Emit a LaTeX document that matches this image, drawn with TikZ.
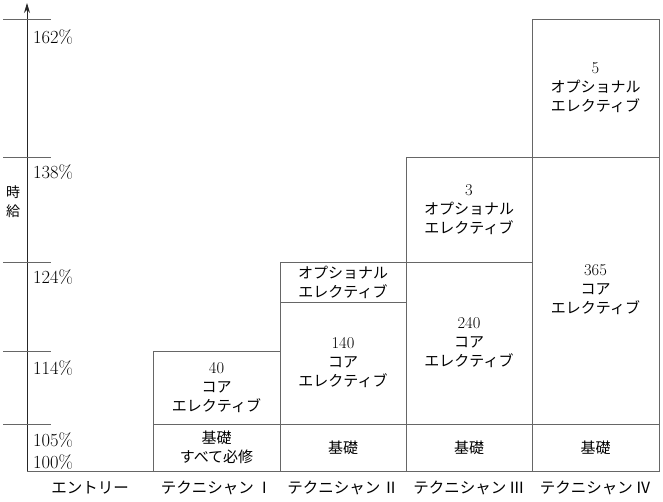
\documentclass[tikz,border=0pt]{standalone}
\usepackage{fontspec}
\newfontfamily\jp{Noto Sans CJK JP}
\usetikzlibrary{arrows.meta}
\tikzset{
  boxline/.style={draw=black!60, line width=0.9pt},
  ticklbl/.style={anchor=west, inner sep=0pt, font=\fontsize{18.5}{18.5}\selectfont},
  cell/.style={align=center, inner sep=0pt, font=\fontsize{16.5}{19}\selectfont},
  collbl/.style={inner sep=0pt, font=\jp\fontsize{15.5}{16}\selectfont},
}
\newcommand{\jt}[1]{{\jp\fontsize{15}{19}\selectfont #1}}
\begin{document}
\begin{tikzpicture}[x=1pt,y=-1pt]
\useasboundingbox (0,0) rectangle (663,501);
% axis
\coordinate (ax0) at (27,471);
\coordinate (ax1) at (27,3);
\draw[black!85, line width=0.9pt, -{Stealth[length=10pt,width=6pt]}] (ax0) -- (ax1);
% baseline
\coordinate (bl1) at (659,471);
\draw[boxline] (ax0) -- (bl1);
% ticks
\foreach \yy/\nm in {19/t162,157/t138,262/t124,351/t114,424/t105}{
  \coordinate (\nm a) at (3,\yy);
  \coordinate (\nm b) at (51,\yy);
  \draw[black!60, line width=0.9pt] (\nm a) -- (\nm b);
}
\node[ticklbl] (l162) at (33,37) {162\%};
\node[ticklbl] (l138) at (33,172) {138\%};
\node[ticklbl] (l124) at (33,277) {124\%};
\node[ticklbl] (l114) at (33,368) {114\%};
\node[ticklbl] (l105) at (33,440) {105\%};
\node[ticklbl] (l100) at (33,462) {100\%};
\node[align=center, inner sep=0pt, font=\jp\fontsize{14}{19}\selectfont] (wage) at (13,202) {時\\給};
% column I
\draw[boxline] (153,351) rectangle (280,424);
\draw[boxline] (153,424) rectangle (280,471);
\node[cell] (c1a) at (216.5,388) {40\\\jt{コア}\\\jt{エレクティブ}};
\node[cell] (c1b) at (216.5,447.5) {\jt{基礎}\\\jt{すべて必修}};
% column II
\draw[boxline] (280,262) rectangle (406,302);
\draw[boxline] (280,302) rectangle (406,424);
\draw[boxline] (280,424) rectangle (406,471);
\node[cell] (c2c) at (343,282) {\jt{オプショナル}\\\jt{エレクティブ}};
\node[cell] (c2a) at (343,363) {140\\\jt{コア}\\\jt{エレクティブ}};
\node[cell] (c2b) at (343,447.5) {\jt{基礎}};
% column III
\draw[boxline] (406,157) rectangle (532,262);
\draw[boxline] (406,262) rectangle (532,424);
\draw[boxline] (406,424) rectangle (532,471);
\node[cell] (c3c) at (469,209.5) {3\\\jt{オプショナル}\\\jt{エレクティブ}};
\node[cell] (c3a) at (469,343) {240\\\jt{コア}\\\jt{エレクティブ}};
\node[cell] (c3b) at (469,447.5) {\jt{基礎}};
% column IV
\draw[boxline] (532,19) rectangle (659,157);
\draw[boxline] (532,157) rectangle (659,424);
\draw[boxline] (532,424) rectangle (659,471);
\node[cell] (c4c) at (595.5,88) {5\\\jt{オプショナル}\\\jt{エレクティブ}};
\node[cell] (c4a) at (595.5,290) {365\\\jt{コア}\\\jt{エレクティブ}};
\node[cell] (c4b) at (595.5,447.5) {\jt{基礎}};
% column labels
\node[collbl] (k0) at (90,488) {エントリー};
\node[collbl] (k1) at (216.5,488) {テクニシャン\,Ⅰ};
\node[collbl] (k2) at (343,488) {テクニシャン\,Ⅱ};
\node[collbl] (k3) at (469,488) {テクニシャン\,Ⅲ};
\node[collbl] (k4) at (595.5,488) {テクニシャン\,Ⅳ};
\end{tikzpicture}
\end{document}
